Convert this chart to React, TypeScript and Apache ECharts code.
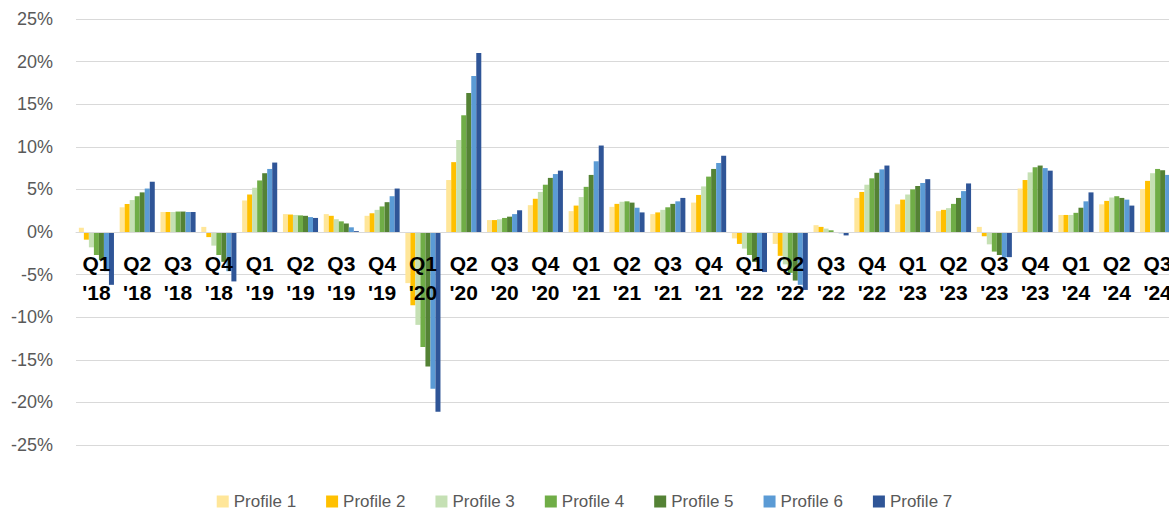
import React, { useEffect, useRef } from "react";
import * as echarts from "echarts";

const categories = [
  "Q1\n'18", "Q2\n'18", "Q3\n'18", "Q4\n'18",
  "Q1\n'19", "Q2\n'19", "Q3\n'19", "Q4\n'19",
  "Q1\n'20", "Q2\n'20", "Q3\n'20", "Q4\n'20",
  "Q1\n'21", "Q2\n'21", "Q3\n'21", "Q4\n'21",
  "Q1\n'22", "Q2\n'22", "Q3\n'22", "Q4\n'22",
  "Q1\n'23", "Q2\n'23", "Q3\n'23", "Q4\n'23",
  "Q1\n'24", "Q2\n'24", "Q3\n'24",
];

const seriesNames = ["Profile 1", "Profile 2", "Profile 3", "Profile 4", "Profile 5", "Profile 6", "Profile 7"];

const profile1 = [0.5, 2.9, 2.35, 0.6, 3.7, 2.1, 2.1, 1.9, -6.0, 6.1, 1.4, 3.15, 2.45, 2.95, 2.1, 3.45, -0.75, -1.4, 0.8, 4.0, 3.25, 2.45, 0.6, 5.1, 2.0, 3.25, 5.05];
const profile2 = [-0.9, 3.3, 2.35, -0.6, 4.4, 2.05, 1.9, 2.2, -8.6, 8.2, 1.4, 3.9, 3.1, 3.3, 2.3, 4.35, -1.4, -2.8, 0.6, 4.7, 3.8, 2.6, -0.5, 6.1, 2.0, 3.65, 6.0];
const profile3 = [-1.8, 3.75, 2.35, -1.6, 5.2, 2.0, 1.5, 2.6, -10.9, 10.8, 1.5, 4.7, 4.1, 3.55, 2.6, 5.35, -1.95, -3.8, 0.4, 5.55, 4.4, 2.8, -1.45, 7.0, 2.0, 4.05, 6.9];
const profile4 = [-2.7, 4.2, 2.4, -2.7, 6.05, 1.95, 1.25, 3.0, -13.5, 13.7, 1.65, 5.55, 5.3, 3.6, 2.9, 6.5, -2.7, -4.8, 0.2, 6.3, 5.0, 3.3, -2.3, 7.6, 2.25, 4.2, 7.4];
const profile5 = [-3.3, 4.65, 2.4, -3.5, 6.9, 1.9, 1.0, 3.5, -15.8, 16.3, 1.8, 6.35, 6.7, 3.45, 3.3, 7.4, -3.5, -5.7, -0.05, 6.95, 5.4, 4.0, -2.7, 7.8, 2.85, 4.0, 7.25];
const profile6 = [-4.6, 5.1, 2.35, -4.6, 7.4, 1.75, 0.55, 4.2, -18.4, 18.3, 2.1, 6.8, 8.3, 2.85, 3.6, 8.1, -4.6, -6.2, -0.15, 7.35, 5.75, 4.8, -2.95, 7.5, 3.6, 3.8, 6.7];
const profile7 = [-6.2, 5.9, 2.35, -5.8, 8.15, 1.65, 0.1, 5.1, -21.1, 21.0, 2.55, 7.2, 10.15, 2.3, 4.0, 8.95, -4.7, -6.8, -0.4, 7.8, 6.2, 5.7, -2.95, 7.2, 4.65, 3.1, 6.2];

const allProfiles = [profile1, profile2, profile3, profile4, profile5, profile6, profile7];
const colors = ["#FFE699", "#FFC000", "#C5E0B4", "#70AD47", "#548235", "#5B9BD5", "#2F5597"];

export default function App() {
  const ref = useRef<HTMLDivElement>(null);

  useEffect(() => {
    if (!ref.current) return;
    const chart = echarts.init(ref.current, undefined, { renderer: "svg" });
    chart.setOption({
      animation: false,
      backgroundColor: "#ffffff",
      color: colors,
      grid: {
        left: 76,
        right: -9,
        top: 19,
        bottom: 67,
        containLabel: false,
        outerBoundsMode: "none",
      },
      legend: {
        data: seriesNames,
        top: 488,
        left: "center",
        icon: "rect",
        itemWidth: 12,
        itemHeight: 12,
        itemGap: 30,
        textStyle: {
          color: "#595959",
          fontSize: 17,
          fontFamily: "Liberation Sans",
        },
      },
      xAxis: {
        type: "category",
        data: categories,
        position: "bottom",
        offset: -213,
        z: 10,
        axisLine: { onZero: false, lineStyle: { color: "#d9d9d9", width: 1 } },
        axisTick: { show: false },
        axisLabel: {
          interval: 0,
          margin: 17,
          color: "#000000",
          fontWeight: "bold",
          fontSize: 21,
          lineHeight: 29,
          fontFamily: "Liberation Sans",
        },
        splitLine: { show: false },
      },
      yAxis: {
        type: "value",
        min: -25,
        max: 25,
        interval: 5,
        axisLine: { show: false },
        axisTick: { show: false },
        axisLabel: {
          formatter: (v: number) => `${v}%`,
          color: "#595959",
          fontSize: 18,
          margin: 23,
          fontFamily: "Liberation Sans",
        },
        splitLine: { lineStyle: { color: "#d9d9d9", width: 1 } },
      },
      series: allProfiles.map((data, i) => ({
        name: seriesNames[i],
        type: "bar",
        data,
        barGap: "0%",
        barCategoryGap: "14%",
        itemStyle: { color: colors[i] },
      })),
    });
    return () => chart.dispose();
  }, []);

  return (
    <div
      ref={ref}
      style={{ position: "fixed", left: 0, top: 0, width: 1169, height: 512 }}
    />
  );
}
